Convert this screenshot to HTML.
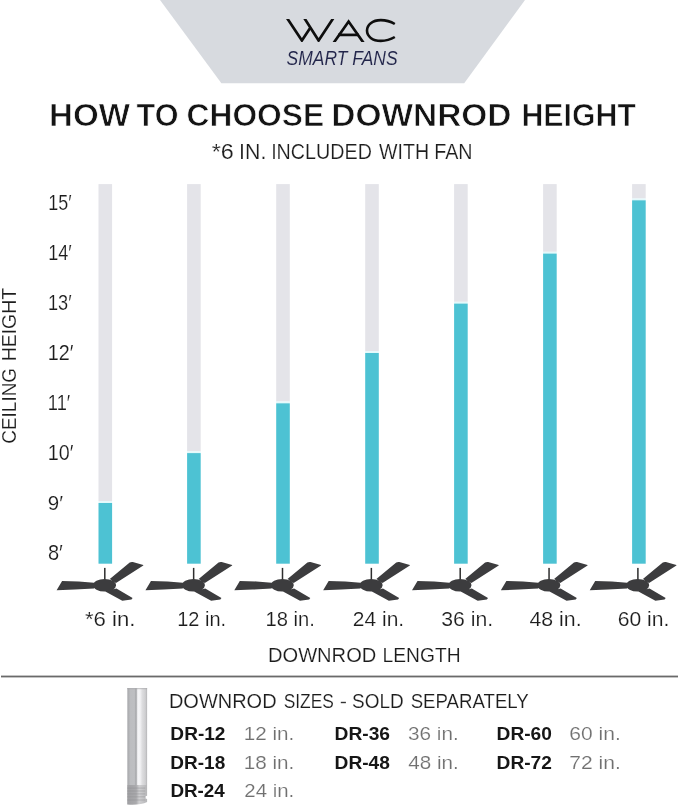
<!DOCTYPE html>
<html><head><meta charset="utf-8"><style>
html,body{margin:0;padding:0;background:#fff;width:679px;height:808px;overflow:hidden}
svg{display:block}
text{font-family:"Liberation Sans", sans-serif;}
</style></head><body>
<svg width="679" height="808" viewBox="0 0 679 808">
<defs><g id="fan">
<rect x="-0.75" y="-17.1" width="1.5" height="12" fill="#2e2e2e"/>
<path fill="#3c3c3e" d="M-42.7 -4 L-26 -3.6 L-10.8 -2.2 L-10.8 3.6 L-30 4.6 L-48.2 5.3 Z M11.3 0.3 A11.5 6.3 0 1 1 -11.7 0.3 A11.5 6.3 0 1 1 11.3 0.3 Z M5 -6 L24.9 -22.6 Q26 -23.2 28 -23 L38.5 -20 L38.5 -19.4 L11.2 -2 Z M11.6 3.4 L27.8 13.1 L26.7 14.5 L17.5 15.7 L0.5 6.6 Z"/>
</g>
<clipPath id="wacclip"><rect x="280" y="19.0" width="130" height="23.0"/></clipPath>
<linearGradient id="rodg" x1="0" x2="1" y1="0" y2="0">
<stop offset="0" stop-color="#c4c5c8"/>
<stop offset="0.03" stop-color="#a9aaad"/>
<stop offset="0.16" stop-color="#bcbdc0"/>
<stop offset="0.36" stop-color="#bebfc2"/>
<stop offset="0.45" stop-color="#a4a5a8"/>
<stop offset="0.53" stop-color="#f6f6f8"/>
<stop offset="0.65" stop-color="#f2f2f4"/>
<stop offset="0.75" stop-color="#dedee0"/>
<stop offset="0.91" stop-color="#cfcfd1"/>
<stop offset="1" stop-color="#b5b5b7"/>
</linearGradient>
<linearGradient id="threadg" x1="0" x2="1" y1="0" y2="0">
<stop offset="0" stop-color="#a0a0a3"/>
<stop offset="0.45" stop-color="#aaaaad"/>
<stop offset="0.6" stop-color="#cfcfd1"/>
<stop offset="1" stop-color="#b6b6b8"/>
</linearGradient></defs>
<polygon points="160,0 525,0 464.2,83.3 221.4,83.3" fill="#d7dadf"/>
<g fill="none" stroke="#0e0e0e" stroke-width="2.7" stroke-linejoin="miter" stroke-miterlimit="10" stroke-linecap="butt" clip-path="url(#wacclip)">
<path d="M286.2 16.8 L301.9 40.5 L310.3 27.8"/>
<path d="M303.5 16.8 L318.6 40.5 L334.2 16.8"/>
<path d="M333.2 43.5 L348.6 21.5 L364.0 43.5"/>
<path d="M338.0 34.9 L358.8 34.9"/>
</g>
<g fill="none" stroke="#0e0e0e" stroke-width="2.6" stroke-linecap="butt">
<path d="M394.8 24.0 C390.5 21.4 385.5 20.1 380.8 20.1 C372.4 20.1 367.0 24.8 367.0 30.6 C367.0 36.4 372.4 40.9 380.8 40.9 C385.5 40.9 390.5 39.6 394.8 37.0"/>
</g>
<rect x="98.50" y="184.10" width="13.60" height="317.10" fill="#e4e4e9"/>
<rect x="98.50" y="501.20" width="13.60" height="1.80" fill="#e3f9fb"/>
<rect x="98.50" y="503.00" width="13.60" height="60.70" fill="#4dc2d3"/>
<rect x="187.10" y="184.10" width="13.60" height="267.20" fill="#e4e4e9"/>
<rect x="187.10" y="451.30" width="13.60" height="1.80" fill="#e3f9fb"/>
<rect x="187.10" y="453.10" width="13.60" height="110.60" fill="#4dc2d3"/>
<rect x="276.20" y="184.10" width="13.60" height="217.40" fill="#e4e4e9"/>
<rect x="276.20" y="401.50" width="13.60" height="1.80" fill="#e3f9fb"/>
<rect x="276.20" y="403.30" width="13.60" height="160.40" fill="#4dc2d3"/>
<rect x="365.20" y="184.10" width="13.60" height="167.10" fill="#e4e4e9"/>
<rect x="365.20" y="351.20" width="13.60" height="1.80" fill="#e3f9fb"/>
<rect x="365.20" y="353.00" width="13.60" height="210.70" fill="#4dc2d3"/>
<rect x="454.10" y="184.10" width="13.60" height="117.70" fill="#e4e4e9"/>
<rect x="454.10" y="301.80" width="13.60" height="1.80" fill="#e3f9fb"/>
<rect x="454.10" y="303.60" width="13.60" height="260.10" fill="#4dc2d3"/>
<rect x="543.10" y="184.10" width="13.60" height="67.70" fill="#e4e4e9"/>
<rect x="543.10" y="251.80" width="13.60" height="1.80" fill="#e3f9fb"/>
<rect x="543.10" y="253.60" width="13.60" height="310.10" fill="#4dc2d3"/>
<rect x="632.10" y="184.10" width="13.60" height="14.40" fill="#e4e4e9"/>
<rect x="632.10" y="198.50" width="13.60" height="1.80" fill="#e3f9fb"/>
<rect x="632.10" y="200.30" width="13.60" height="363.40" fill="#4dc2d3"/>
<use href="#fan" transform="translate(104.80 585)"/>
<use href="#fan" transform="translate(193.65 585)"/>
<use href="#fan" transform="translate(282.50 585)"/>
<use href="#fan" transform="translate(371.35 585)"/>
<use href="#fan" transform="translate(460.20 585)"/>
<use href="#fan" transform="translate(549.05 585)"/>
<use href="#fan" transform="translate(637.90 585)"/>
<rect x="1" y="675.6" width="677" height="1.8" fill="#6a6a6a"/>
<rect x="340.8" y="701.8" width="5.1" height="1.4" fill="#333"/>
<rect x="127.2" y="688" width="19.9" height="97" fill="url(#rodg)"/>
<rect x="127.2" y="688" width="19.9" height="1.2" fill="#a8a8ab" opacity="0.6"/>
<path d="M127.2 785 H147.1 V795.8 L145.6 796.3 V798.5 L147.1 799 V802 Q140 805.5 127.2 804.5 Z" fill="url(#threadg)"/>
<g fill="#8e8e91" opacity="0.4">
<rect x="127.2" y="787.5" width="18" height="1.2"/>
<rect x="127.2" y="790.4" width="18" height="1.2"/>
<rect x="127.2" y="793.3" width="18" height="1.2"/>
<rect x="127.2" y="796.2" width="18" height="1.2"/>
<rect x="127.2" y="799.4" width="18" height="1.2"/>
</g>
<g opacity="0.999">
<text transform="matrix(0.8530 0 0 1 286.61 64.75)" font-size="20.49" font-weight="normal" font-style="italic" fill="#22254a" stroke="#d7dadf" stroke-width="0.100">SMART FANS</text>
<text transform="matrix(1.0428 0 0 1 49.09 125.75)" font-size="31.83" font-weight="bold" font-style="normal" fill="#141414" stroke="#fff" stroke-width="0.700">HOW</text>
<text transform="matrix(0.9618 0 0 1 136.54 125.75)" font-size="31.83" font-weight="bold" font-style="normal" fill="#141414" stroke="#fff" stroke-width="0.700">TO</text>
<text transform="matrix(0.9970 0 0 1 186.58 125.75)" font-size="31.83" font-weight="bold" font-style="normal" fill="#141414" stroke="#fff" stroke-width="0.700">CHOOSE</text>
<text transform="matrix(1.0513 0 0 1 331.27 125.75)" font-size="31.83" font-weight="bold" font-style="normal" fill="#141414" stroke="#fff" stroke-width="0.700">DOWNROD</text>
<text transform="matrix(0.9517 0 0 1 521.48 125.75)" font-size="31.83" font-weight="bold" font-style="normal" fill="#141414" stroke="#fff" stroke-width="0.700">HEIGHT</text>
<text transform="matrix(1.0957 0 0 1 211.77 158.68)" font-size="21.31" font-weight="normal" font-style="normal" fill="#1e1e1e" stroke="#fff" stroke-width="0.160">*6</text>
<text transform="matrix(1.0009 0 0 1 239.10 158.68)" font-size="21.31" font-weight="normal" font-style="normal" fill="#1e1e1e" stroke="#fff" stroke-width="0.160">IN.</text>
<text transform="matrix(0.9251 0 0 1 271.15 158.68)" font-size="21.31" font-weight="normal" font-style="normal" fill="#1e1e1e" stroke="#fff" stroke-width="0.160">INCLUDED</text>
<text transform="matrix(0.9198 0 0 1 379.12 158.68)" font-size="21.31" font-weight="normal" font-style="normal" fill="#1e1e1e" stroke="#fff" stroke-width="0.160">WITH</text>
<text transform="matrix(0.9256 0 0 1 434.24 158.68)" font-size="21.31" font-weight="normal" font-style="normal" fill="#1e1e1e" stroke="#fff" stroke-width="0.160">FAN</text>
<text transform="matrix(0.8306 0 0 1 48.27 209.78)" font-size="21.60" font-weight="normal" font-style="normal" fill="#1c1c1c" stroke="#fff" stroke-width="0.160">15′</text>
<text transform="matrix(0.8401 0 0 1 48.17 260.08)" font-size="21.45" font-weight="normal" font-style="normal" fill="#1c1c1c" stroke="#fff" stroke-width="0.160">14′</text>
<text transform="matrix(0.8478 0 0 1 47.96 310.28)" font-size="21.45" font-weight="normal" font-style="normal" fill="#1c1c1c" stroke="#fff" stroke-width="0.160">13′</text>
<text transform="matrix(0.9275 0 0 1 47.74 360.18)" font-size="21.31" font-weight="normal" font-style="normal" fill="#1c1c1c" stroke="#fff" stroke-width="0.160">12′</text>
<text transform="matrix(0.8499 0 0 1 47.85 410.28)" font-size="21.45" font-weight="normal" font-style="normal" fill="#1c1c1c" stroke="#fff" stroke-width="0.160">11′</text>
<text transform="matrix(0.9212 0 0 1 47.74 460.28)" font-size="21.45" font-weight="normal" font-style="normal" fill="#1c1c1c" stroke="#fff" stroke-width="0.160">10′</text>
<text transform="matrix(0.9819 0 0 1 47.80 509.88)" font-size="20.87" font-weight="normal" font-style="normal" fill="#1c1c1c" stroke="#fff" stroke-width="0.160">9′</text>
<text transform="matrix(0.9476 0 0 1 47.92 559.68)" font-size="21.16" font-weight="normal" font-style="normal" fill="#1c1c1c" stroke="#fff" stroke-width="0.160">8′</text>
<text transform="matrix(1.0645 0 0 1 84.89 625.78)" font-size="20.87" font-weight="normal" font-style="normal" fill="#1c1c1c" stroke="#fff" stroke-width="0.160">*6 in.</text>
<text transform="matrix(0.9580 0 0 1 177.22 625.78)" font-size="20.87" font-weight="normal" font-style="normal" fill="#1c1c1c" stroke="#fff" stroke-width="0.160">12 in.</text>
<text transform="matrix(0.9664 0 0 1 265.51 625.78)" font-size="20.87" font-weight="normal" font-style="normal" fill="#1c1c1c" stroke="#fff" stroke-width="0.160">18 in.</text>
<text transform="matrix(1.0057 0 0 1 352.87 625.78)" font-size="20.87" font-weight="normal" font-style="normal" fill="#1c1c1c" stroke="#fff" stroke-width="0.160">24 in.</text>
<text transform="matrix(1.0178 0 0 1 441.18 625.78)" font-size="20.87" font-weight="normal" font-style="normal" fill="#1c1c1c" stroke="#fff" stroke-width="0.160">36 in.</text>
<text transform="matrix(1.0215 0 0 1 529.49 625.78)" font-size="20.87" font-weight="normal" font-style="normal" fill="#1c1c1c" stroke="#fff" stroke-width="0.160">48 in.</text>
<text transform="matrix(1.0120 0 0 1 617.76 625.78)" font-size="20.87" font-weight="normal" font-style="normal" fill="#1c1c1c" stroke="#fff" stroke-width="0.160">60 in.</text>
<text transform="matrix(0.9699 0 0 1 268.01 661.68)" font-size="20.73" font-weight="normal" font-style="normal" fill="#1c1c1c" stroke="#fff" stroke-width="0.160">DOWNROD</text>
<text transform="matrix(0.9276 0 0 1 382.58 661.68)" font-size="20.73" font-weight="normal" font-style="normal" fill="#1c1c1c" stroke="#fff" stroke-width="0.160">LENGTH</text>
<text transform="translate(15.98 443.73) rotate(-90) scale(0.9553 1)" font-size="19.85" fill="#1c1c1c" stroke="#fff" stroke-width="0.160">CEILING</text>
<text transform="translate(15.98 361.34) rotate(-90) scale(0.9816 1)" font-size="19.85" fill="#1c1c1c" stroke="#fff" stroke-width="0.160">HEIGHT</text>
<text transform="matrix(0.9510 0 0 1 168.92 707.68)" font-size="21.02" font-weight="normal" font-style="normal" fill="#1c1c1c" stroke="#fff" stroke-width="0.160">DOWNROD</text>
<text transform="matrix(0.8278 0 0 1 283.64 707.68)" font-size="21.02" font-weight="normal" font-style="normal" fill="#1c1c1c" stroke="#fff" stroke-width="0.160">SIZES</text>
<text transform="matrix(0.9017 0 0 1 352.07 707.68)" font-size="21.02" font-weight="normal" font-style="normal" fill="#1c1c1c" stroke="#fff" stroke-width="0.160">SOLD</text>
<text transform="matrix(0.8870 0 0 1 410.68 707.68)" font-size="21.02" font-weight="normal" font-style="normal" fill="#1c1c1c" stroke="#fff" stroke-width="0.160">SEPARATELY</text>
<text transform="matrix(1.0759 0 0 1 170.36 740.10)" font-size="17.73" font-weight="bold" font-style="normal" fill="#161616">DR-12</text>
<text transform="matrix(1.1496 0 0 1 243.77 740.18)" font-size="17.97" font-weight="normal" font-style="normal" fill="#707070" stroke="#fff" stroke-width="0.160">12 in.</text>
<text transform="matrix(1.0840 0 0 1 334.55 740.10)" font-size="17.73" font-weight="bold" font-style="normal" fill="#161616">DR-36</text>
<text transform="matrix(1.1538 0 0 1 407.99 740.18)" font-size="17.97" font-weight="normal" font-style="normal" fill="#707070" stroke="#fff" stroke-width="0.160">36 in.</text>
<text transform="matrix(1.0799 0 0 1 496.56 740.10)" font-size="17.73" font-weight="bold" font-style="normal" fill="#161616">DR-60</text>
<text transform="matrix(1.1733 0 0 1 569.27 740.18)" font-size="17.97" font-weight="normal" font-style="normal" fill="#707070" stroke="#fff" stroke-width="0.160">60 in.</text>
<text transform="matrix(1.0720 0 0 1 170.36 768.50)" font-size="17.73" font-weight="bold" font-style="normal" fill="#161616">DR-18</text>
<text transform="matrix(1.1496 0 0 1 243.77 768.58)" font-size="17.97" font-weight="normal" font-style="normal" fill="#707070" stroke="#fff" stroke-width="0.160">18 in.</text>
<text transform="matrix(1.0801 0 0 1 334.56 768.50)" font-size="17.73" font-weight="bold" font-style="normal" fill="#161616">DR-48</text>
<text transform="matrix(1.1464 0 0 1 408.31 768.58)" font-size="17.97" font-weight="normal" font-style="normal" fill="#707070" stroke="#fff" stroke-width="0.160">48 in.</text>
<text transform="matrix(1.0799 0 0 1 496.56 768.50)" font-size="17.73" font-weight="bold" font-style="normal" fill="#161616">DR-72</text>
<text transform="matrix(1.1733 0 0 1 569.27 768.58)" font-size="17.97" font-weight="normal" font-style="normal" fill="#707070" stroke="#fff" stroke-width="0.160">72 in.</text>
<text transform="matrix(1.0625 0 0 1 170.38 797.20)" font-size="17.73" font-weight="bold" font-style="normal" fill="#161616">DR-24</text>
<text transform="matrix(1.1371 0 0 1 244.30 797.28)" font-size="17.97" font-weight="normal" font-style="normal" fill="#707070" stroke="#fff" stroke-width="0.160">24 in.</text>
</g>
</svg>
</body></html>
